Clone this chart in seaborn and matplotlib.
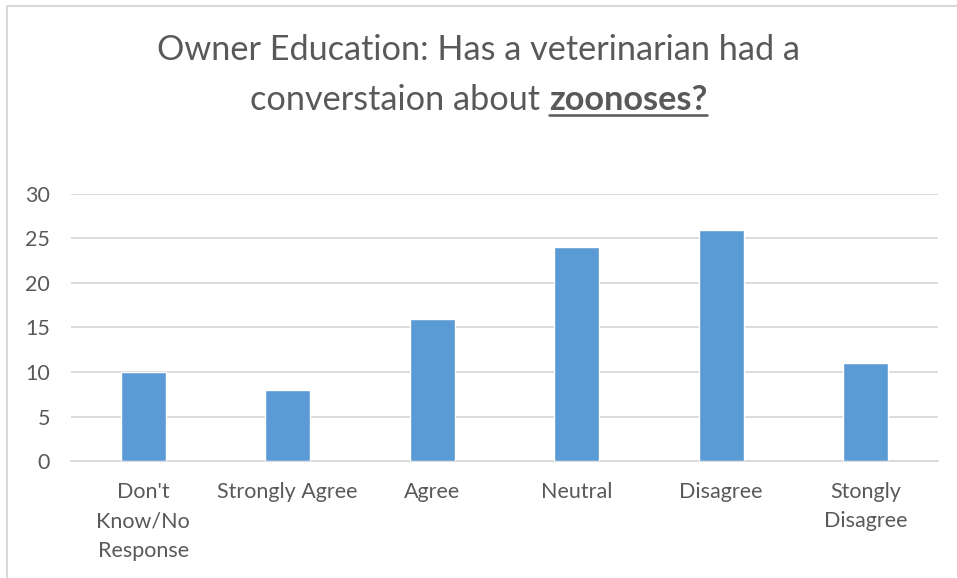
import matplotlib
matplotlib.use('Agg')
import pandas as pd
from matplotlib import pyplot as plt
from matplotlib.lines import Line2D
import seaborn as sns

categories = ["Don't\nKnow/No\nResponse", 'Strongly Agree', 'Agree',
              'Neutral', 'Disagree', 'Stongly\nDisagree']
counts = [10, 8, 16, 24, 26, 11]
yticks = [0, 5, 10, 15, 20, 25, 30]

text_col = '#595959'
grid_col = '#D9D9D9'
bar_col = '#5B9BD5'

sns.set_theme(style='white')
plt.rcParams['font.family'] = ['Lato', 'DejaVu Sans']

df = pd.DataFrame({'category': categories, 'count': counts})

fig = plt.figure(figsize=(9.57, 5.78), dpi=100)
ax = fig.add_axes([0.0742, 0.2024, 0.9058, 0.462])

sns.barplot(data=df, x='category', y='count', color=bar_col,
            width=0.31, saturation=1, ax=ax, zorder=3)

ax.set_ylim(0, 30)
ax.set_yticks(yticks)
ax.set_xlim(-0.5, len(categories) - 0.5)
ax.yaxis.grid(True, color=grid_col, linewidth=1.3, zorder=0)
ax.set_axisbelow(True)
for s in ['top', 'right', 'left']:
    ax.spines[s].set_visible(False)
ax.spines['bottom'].set_color(grid_col)
ax.spines['bottom'].set_linewidth(1.3)
ax.tick_params(axis='both', length=0, labelsize=15.5, labelcolor=text_col)
ax.tick_params(axis='x', pad=15)
ax.tick_params(axis='y', pad=15)
for lab in ax.get_xticklabels():
    lab.set_linespacing(1.6)
ax.set_xlabel('')
ax.set_ylabel('')

# title, second line partly bold + underlined
fs = 24.7
fig.text(0.5, 1 - 50 / 578, 'Owner Education: Has a veterinarian had a',
         ha='center', va='center', fontsize=fs, color=text_col)
fig.canvas.draw()
r = fig.canvas.get_renderer()
t1 = fig.text(0, 1 - 100 / 578, 'converstaion about ', ha='left', va='center',
              fontsize=fs, color=text_col)
t2 = fig.text(0, 1 - 100 / 578, 'zoonoses?', ha='left', va='center',
              fontsize=fs, color=text_col, fontweight='bold')
w1 = t1.get_window_extent(r).width
w2 = t2.get_window_extent(r).width
W = fig.bbox.width
x0 = (W - w1 - w2) / 2
t1.set_x(x0 / W)
t2.set_x((x0 + w1) / W)
fig.add_artist(Line2D([(x0 + w1) / W, (x0 + w1 + w2) / W],
                      [1 - 115 / 578, 1 - 115 / 578],
                      color=text_col, linewidth=1.8))

# chart area border
fig.add_artist(Line2D([6.5 / 957, 6.5 / 957, 1], [0, 1 - 5.5 / 578, 1 - 5.5 / 578],
                      color=grid_col, linewidth=1.5))

fig.savefig('out.png', dpi=100, facecolor='white')
